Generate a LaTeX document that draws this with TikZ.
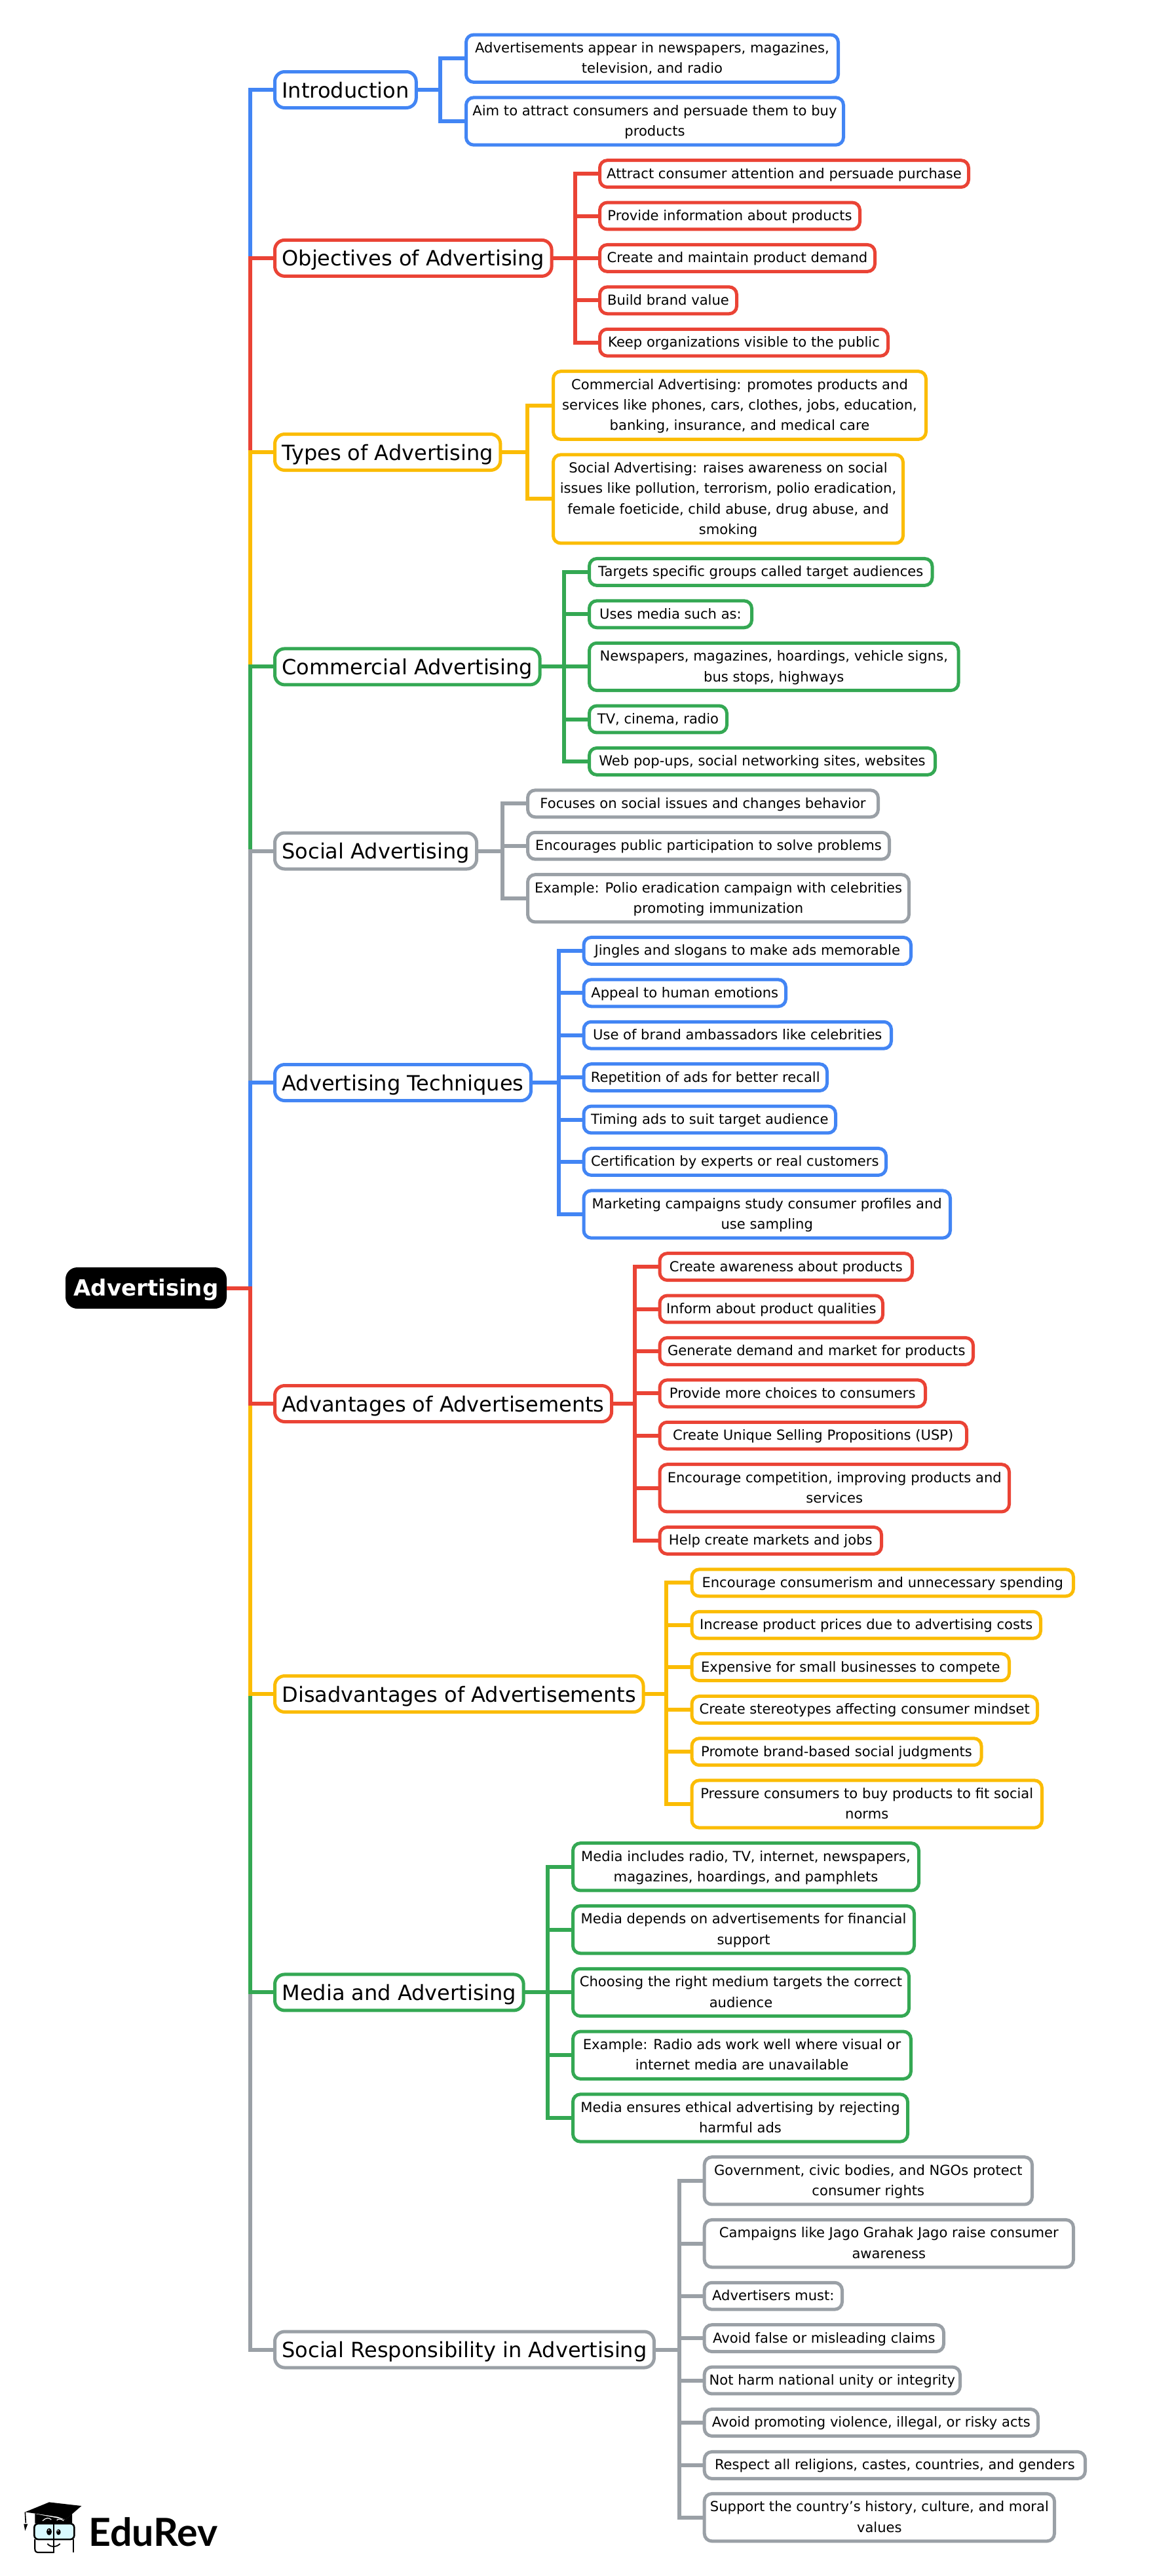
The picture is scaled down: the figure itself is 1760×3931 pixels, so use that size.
\documentclass[tikz,border=0pt]{standalone}
\usepackage{fontspec}
\setmainfont{DejaVu Sans}
\newfontfamily\logofont{Lato}
\definecolor{cblue}{HTML}{4285F4}
\definecolor{cred}{HTML}{EA4335}
\definecolor{cyellow}{HTML}{FBBC04}
\definecolor{cgreen}{HTML}{34A853}
\definecolor{cgray}{HTML}{9AA0A6}
\tikzset{
  rootbox/.style={fill=black,text=white,rounded corners=9pt,inner sep=0pt,outer sep=0pt,minimum width=123pt,minimum height=31.5pt,font=\fontsize{17}{20}\selectfont\bfseries,text height=12.6pt,text depth=1pt},
  mainbox/.style={draw=#1,line width=2.5pt,rounded corners=7.5pt,fill=white,inner xsep=5.5pt,inner ysep=0pt,outer sep=0pt,minimum height=27.5pt,font=\fontsize{16}{19}\selectfont,text height=13pt,text depth=1pt,anchor=west},
  kidbox/.style={draw=#1,line width=2.5pt,rounded corners=5.75pt,fill=white,inner sep=0pt,outer sep=0pt,align=center,font=\fontsize{10.55}{15.7}\selectfont,anchor=west},
  link/.style={draw=#1,line width=3pt,miter limit=10}
}
\newcommand{\ks}{\rule[-2.6pt]{0pt}{12.1pt}}
% name, colour, outer left, outer right, centre y, lines, text
\newcommand{\kid}[7]{%
  \pgfmathsetmacro{\kw}{(#4-#3-5)*0.5}%
  \pgfmathsetmacro{\kh}{(14.5+31.4*#6-5)*0.5}%
  \pgfmathsetmacro{\kx}{#3+2.5}%
  \node[kidbox=#2,minimum width=\kw pt,minimum height=\kh pt] (#1) at (\kx,#5) {\ks#7\ks};%
}
% parent, bracket coordinate, colour, kids
\newcommand{\branch}[4]{%
  \foreach \k in {#4} {\draw[link=#3] (#1.east) -- (#1.east -| #2) |- (\k.west);}%
}
\begin{document}
\begin{tikzpicture}[x=0.5pt,y=-0.5pt]
\useasboundingbox (0,0) rectangle (1760,3931);
\fill[white] (0,0) rectangle (1760,3931);
\node[rootbox] (root) at (223,1965.5) {Advertising};
\coordinate (trunk) at (382,1965.5);
% main nodes
\node[mainbox=cblue] (m1) at (419.5,137) {Introduction};
\node[mainbox=cred] (m2) at (419.5,393.9) {Objectives of Advertising};
\node[mainbox=cyellow] (m3) at (419.5,690) {Types of Advertising};
\node[mainbox=cgreen] (m4) at (419.5,1017.4) {Commercial Advertising};
\node[mainbox=cgray] (m5) at (419.5,1298.5) {Social Advertising};
\node[mainbox=cblue] (m6) at (419.5,1652) {Advertising Techniques};
\node[mainbox=cred] (m7) at (419.5,2142) {Advantages of Advertisements};
\node[mainbox=cyellow] (m8) at (419.5,2585) {Disadvantages of Advertisements};
\node[mainbox=cgreen] (m9) at (419.5,3040.4) {Media and Advertising};
\node[mainbox=cgray] (m10) at (419.5,3585.5) {Social Responsibility in Advertising};
% trunk connectors
\foreach \m/\c in {m1/cblue,m2/cred,m3/cyellow,m4/cgreen,m5/cgray,m6/cblue,m10/cgray,m9/cgreen,m8/cyellow,m7/cred}
  {\draw[link=\c] (root.east) -- (trunk) |- (\m.west);}
% Introduction
\kid{a1}{cblue}{709}{1282}{89.2}{2}{Advertisements appear in newspapers, magazines,\\television, and radio}
\kid{a2}{cblue}{709}{1290}{185}{2}{Aim to attract consumers and persuade them to buy\\products}
\coordinate (ba) at (672,137);
\branch{m1}{ba}{cblue}{a1,a2}
% Objectives
\kid{b1}{cred}{913}{1481}{265.1}{1}{Attract consumer attention and persuade purchase}
\kid{b2}{cred}{913}{1315}{329.5}{1}{Provide information about products}
\kid{b3}{cred}{913}{1338}{393.9}{1}{Create and maintain product demand}
\kid{b4}{cred}{913}{1127}{458.3}{1}{Build brand value}
\kid{b5}{cred}{913}{1358}{522.7}{1}{Keep organizations visible to the public}
\coordinate (bb) at (877.7,394);
\branch{m2}{bb}{cred}{b1,b2,b3,b4,b5}
% Types
\kid{c1}{cyellow}{842}{1416}{618.5}{3}{Commercial Advertising: promotes products and\\services like phones, cars, clothes, jobs, education,\\banking, insurance, and medical care}
\kid{c2}{cyellow}{842}{1381}{761.4}{4}{Social Advertising: raises awareness on social\\issues like pollution, terrorism, polio eradication,\\female foeticide, child abuse, drug abuse, and\\smoking}
\coordinate (bc) at (805,690);
\branch{m3}{bc}{cyellow}{c1,c2}
% Commercial
\kid{d1}{cgreen}{897}{1425.5}{872.9}{1}{Targets specific groups called target audiences}
\kid{d2}{cgreen}{897}{1150}{937.3}{1}{Uses media such as:}
\kid{d3}{cgreen}{897}{1465.5}{1017.4}{2}{Newspapers, magazines, hoardings, vehicle signs,\\bus stops, highways}
\kid{d4}{cgreen}{897}{1112}{1097.5}{1}{TV, cinema, radio}
\kid{d5}{cgreen}{897}{1430}{1161.9}{1}{Web pop-ups, social networking sites, websites}
\coordinate (bd) at (860.5,1017);
\branch{m4}{bd}{cgreen}{d1,d2,d3,d4,d5}
% Social
\kid{e1}{cgray}{803}{1343}{1226.3}{1}{Focuses on social issues and changes behavior}
\kid{e2}{cgray}{803}{1360}{1290.7}{1}{Encourages public participation to solve problems}
\kid{e3}{cgray}{803}{1390}{1370.8}{2}{Example: Polio eradication campaign with celebrities\\promoting immunization}
\coordinate (be) at (766.7,1298);
\branch{m5}{be}{cgray}{e1,e2,e3}
% Techniques
\kid{f1}{cblue}{888.5}{1393}{1450.9}{1}{Jingles and slogans to make ads memorable}
\kid{f2}{cblue}{888.5}{1202}{1515.3}{1}{Appeal to human emotions}
\kid{f3}{cblue}{888.5}{1363}{1579.7}{1}{Use of brand ambassadors like celebrities}
\kid{f4}{cblue}{888.5}{1265}{1644.1}{1}{Repetition of ads for better recall}
\kid{f5}{cblue}{888.5}{1278}{1708.5}{1}{Timing ads to suit target audience}
\kid{f6}{cblue}{888.5}{1355}{1772.9}{1}{Certification by experts or real customers}
\kid{f7}{cblue}{888.5}{1453}{1853}{2}{Marketing campaigns study consumer profiles and\\use sampling}
\coordinate (bf) at (852.7,1652);
\branch{m6}{bf}{cblue}{f1,f2,f3,f4,f5,f6,f7}
% Advantages
\kid{g1}{cred}{1004.5}{1395}{1933.1}{1}{Create awareness about products}
\kid{g2}{cred}{1004.5}{1350}{1997.5}{1}{Inform about product qualities}
\kid{g3}{cred}{1004.5}{1488}{2061.9}{1}{Generate demand and market for products}
\kid{g4}{cred}{1004.5}{1415}{2126.3}{1}{Provide more choices to consumers}
\kid{g5}{cred}{1004.5}{1478}{2190.7}{1}{Create Unique Selling Propositions (USP)}
\kid{g6}{cred}{1004.5}{1543}{2270.8}{2}{Encourage competition, improving products and\\services}
\kid{g7}{cred}{1004.5}{1348}{2350.9}{1}{Help create markets and jobs}
\coordinate (bg) at (968.5,2142);
\branch{m7}{bg}{cred}{g1,g2,g3,g4,g5,g6,g7}
% Disadvantages
\kid{h1}{cyellow}{1053.5}{1641}{2415.3}{1}{Encourage consumerism and unnecessary spending}
\kid{h2}{cyellow}{1053.5}{1591}{2479.7}{1}{Increase product prices due to advertising costs}
\kid{h3}{cyellow}{1053.5}{1543}{2544.1}{1}{Expensive for small businesses to compete}
\kid{h4}{cyellow}{1053.5}{1586}{2608.9}{1}{Create stereotypes affecting consumer mindset}
\kid{h5}{cyellow}{1053.5}{1500.5}{2673.2}{1}{Promote brand-based social judgments}
\kid{h6}{cyellow}{1053.5}{1593}{2753}{2}{Pressure consumers to buy products to fit social\\norms}
\coordinate (bh) at (1017.3,2585);
\branch{m8}{bh}{cyellow}{h1,h2,h3,h4,h5,h6}
% Media
\kid{i1}{cgreen}{872}{1405}{2848.8}{2}{Media includes radio, TV, internet, newspapers,\\magazines, hoardings, and pamphlets}
\kid{i2}{cgreen}{872}{1398}{2944.6}{2}{Media depends on advertisements for financial\\support}
\kid{i3}{cgreen}{872}{1390}{3040.4}{2}{Choosing the right medium targets the correct\\audience}
\kid{i4}{cgreen}{872}{1393}{3136.2}{2}{Example: Radio ads work well where visual or\\internet media are unavailable}
\kid{i5}{cgreen}{872}{1388}{3232}{2}{Media ensures ethical advertising by rejecting\\harmful ads}
\coordinate (bi) at (836,3040);
\branch{m9}{bi}{cgreen}{i1,i2,i3,i4,i5}
% Responsibility
\kid{j1}{cgray}{1072.7}{1578}{3327.8}{2}{Government, civic bodies, and NGOs protect\\consumer rights}
\kid{j2}{cgray}{1072.7}{1641}{3423.6}{2}{Campaigns like Jago Grahak Jago raise consumer\\awareness}
\kid{j3}{cgray}{1072.7}{1288}{3503.7}{1}{Advertisers must:}
\kid{j4}{cgray}{1072.7}{1443}{3568.1}{1}{Avoid false or misleading claims}
\kid{j5}{cgray}{1072.7}{1468}{3632.5}{1}{Not harm national unity or integrity}
\kid{j6}{cgray}{1072.7}{1587}{3696.9}{1}{Avoid promoting violence, illegal, or risky acts}
\kid{j7}{cgray}{1072.7}{1659}{3761.9}{1}{Respect all religions, castes, countries, and genders}
\kid{j8}{cgray}{1072.7}{1612}{3841.6}{2}{Support the country's history, culture, and moral\\values}
\coordinate (bj) at (1037,3585);
\branch{m10}{bj}{cgray}{j1,j2,j3,j4,j5,j6,j7,j8}
% logo
\node[anchor=base west,inner sep=0pt,font=\fontsize{29.5}{32}\selectfont\logofont\bfseries] (logo) at (135,3885) {EduRev};
\begin{scope}[shift={(20,3800)},x=0.1667pt,y=-0.1667pt]
  \fill[black] (55,100) -- (165,55) -- (313,72) -- (240,135) -- (205,122) -- cycle;
  \fill[black] (100,108) -- (100,152) -- (270,152) -- (270,108) -- (240,135) -- cycle;
  \draw[white,line width=0.6pt] (135,140) .. controls (150,125) and (165,125) .. (175,135);
  \draw[white,line width=0.6pt] (200,138) .. controls (205,130) and (220,130) .. (232,140);
  \draw[black,line width=0.8pt] (55,100) -- (58,150);
  \fill[black] (49,155) -- (67,155) -- (55,186) -- cycle;
  \draw[black,line width=1.3pt,fill=blue!12!cyan!15,rounded corners=3pt] (97,153) rectangle (280,225);
  \draw[black,line width=1.1pt] (100,225) -- (100,270) .. controls (100,282) and (108,285) .. (118,285) -- (187,285);
  \draw[black,line width=1.1pt] (275,225) -- (275,285);
  \draw[black,line width=1.1pt] (187,150) -- (187,287);
  \fill[black] (165,190) ellipse [x radius=12,y radius=16];
  \fill[black] (208,192) ellipse [x radius=10,y radius=13];
  \fill[white] (163,183) circle [radius=3];
  \fill[white] (206,186) circle [radius=3];
  \draw[black,line width=0.9pt] (157,245) .. controls (170,262) and (200,262) .. (215,245);
\end{scope}
\end{tikzpicture}
\end{document}
